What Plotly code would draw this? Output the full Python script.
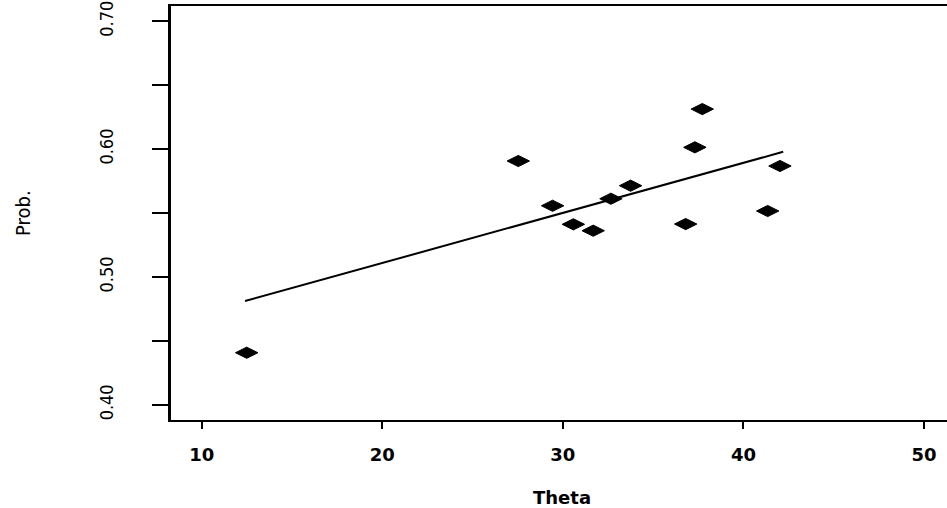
import plotly.graph_objects as go

# Data
theta = [12.49, 27.53, 29.43, 30.58, 31.68, 32.66, 33.75, 36.80, 37.31, 37.72, 41.34, 42.02]
prob = [0.4409, 0.5908, 0.5558, 0.5413, 0.5363, 0.5613, 0.5715, 0.5415, 0.6015, 0.6314, 0.5517, 0.5869]

# Fitted line end points (as drawn)
fit_x = [12.40, 42.20]
fit_y = [0.4813, 0.5980]

x_ticks = [10, 20, 30, 40, 50]
y_ticks = [0.40, 0.45, 0.50, 0.55, 0.60, 0.65, 0.70]
y_ticktext = ["0.40", "", "0.50", "", "0.60", "", "0.70"]

narrow = "Liberation Sans Narrow, DejaVu Sans Condensed, Arial Narrow, sans-serif"
wide = "DejaVu Sans, Verdana, sans-serif"

fig = go.Figure()
fig.add_trace(go.Scatter(
    x=fit_x, y=fit_y, mode="lines",
    line=dict(color="black", width=2), showlegend=False, hoverinfo="skip"))
fig.add_trace(go.Scatter(
    x=theta, y=prob, mode="markers",
    marker=dict(symbol="diamond-wide", size=16, color="black",
                line=dict(color="black", width=1)),
    showlegend=False))

fig.update_layout(
    width=947, height=508,
    margin=dict(l=171, r=0, t=6, b=88, autoexpand=False),
    paper_bgcolor="white", plot_bgcolor="white",
    xaxis=dict(
        range=[8.30, 51.27], tickvals=x_ticks, ticktext=[str(v) for v in x_ticks],
        ticks="outside", ticklen=7, tickwidth=2, tickcolor="black",
        showline=True, linecolor="black", linewidth=2, mirror=True,
        showgrid=False, zeroline=False, automargin=False,
        tickfont=dict(family=wide, size=18, color="black", weight="bold"),
        ticklabelstandoff=10, ticklabeloverflow="allow",
    ),
    yaxis=dict(
        range=[0.3883, 0.712], tickvals=y_ticks, ticktext=y_ticktext,
        ticks="outside", ticklen=16, tickwidth=2, tickcolor="black",
        showline=True, linecolor="black", linewidth=2.5, mirror=False,
        showgrid=False, zeroline=False, tickangle=-90, automargin=False,
        tickfont=dict(family=narrow, size=18, color="black"),
        ticklabelstandoff=32, ticklabeloverflow="allow",
    ),
    annotations=[
        dict(text="Prob.", xref="paper", yref="paper", x=0, y=0.5,
             xshift=-148, xanchor="center", yanchor="middle", textangle=-90,
             showarrow=False, font=dict(family=narrow, size=20, color="black")),
        dict(text="Theta", xref="paper", yref="paper", x=0.5045, y=0,
             yshift=-77, xanchor="center", yanchor="middle",
             showarrow=False, font=dict(family=wide, size=18, color="black", weight="bold")),
    ],
)

fig.write_html("out.html", config={"displayModeBar": False},
               post_script="document.body.style.margin='0';document.body.style.overflow='hidden';")
